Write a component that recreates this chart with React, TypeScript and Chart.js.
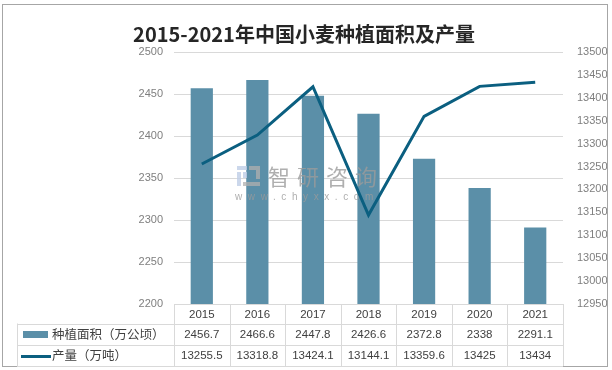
import React, { useEffect, useRef } from 'react';
import { Chart, registerables } from 'chart.js';

Chart.register(...registerables);

const titleText = '2015-2021年中国小麦种植面积及产量';
const years = ['2015', '2016', '2017', '2018', '2019', '2020', '2021'];
const areaLabel = '种植面积（万公顷）';
const outputLabel = '产量（万吨）';
const areaValues = [2456.7, 2466.6, 2447.8, 2426.6, 2372.8, 2338, 2291.1];
const outputValues = [13255.5, 13318.8, 13424.1, 13144.1, 13359.6, 13425, 13434];
const leftAxis = { min: 2200, max: 2500, step: 50 };
const rightAxis = { min: 12950, max: 13500, step: 50 };
const watermarkText = '智研咨询';
const watermarkUrl = 'www.chyxx.com';

const BAR_COLOR = '#5b8fa8';
const LINE_COLOR = '#0b5f80';
const GRID_COLOR = '#d9d9d9';
const TEXT_COLOR = '#404040';
const TICK_COLOR = '#7f7f7f';
const CJK = '"Noto Sans CJK SC", "Noto Sans", sans-serif';
const NUM = '"Liberation Sans", Arial, sans-serif';

function drawWatermark(ctx: CanvasRenderingContext2D) {
  ctx.save();
  // logo
  ctx.fillStyle = 'rgba(190,205,230,0.8)';
  ctx.fillRect(237, 166, 10, 4);
  ctx.fillRect(237, 172, 4, 14);
  ctx.fillRect(243, 172, 4, 6);
  ctx.fillStyle = 'rgba(175,175,175,0.75)';
  ctx.fillRect(249, 166, 11, 4);
  ctx.fillRect(256, 170, 4, 9);
  ctx.fillRect(243, 182, 17, 4);
  // text
  ctx.fillStyle = 'rgba(155,155,155,0.8)';
  ctx.font = `22px ${CJK}`;
  ctx.textBaseline = 'middle';
  ctx.textAlign = 'left';
  (ctx as any).letterSpacing = '7px';
  ctx.fillText(watermarkText, 268, 177);
  ctx.font = `10px ${NUM}`;
  (ctx as any).letterSpacing = '5.6px';
  ctx.fillText(watermarkUrl, 235, 197);
  (ctx as any).letterSpacing = '0px';
  ctx.restore();
}

const decorPlugin = {
  id: 'decor',
  beforeDraw(chart: any) {
    const ctx = chart.ctx;
    ctx.save();
    ctx.fillStyle = '#ffffff';
    ctx.fillRect(0, 0, chart.width, chart.height);
    ctx.restore();
  },
  beforeDatasetDraw(chart: any, args: any) {
    // draw watermark after the bars, beneath the line
    if (args.index === 0) drawWatermark(chart.ctx);
  },
  afterDraw(chart: any) {
    const ctx = chart.ctx;
    const x = chart.scales.x;
    const n = years.length;
    const left = x.left;
    const right = x.right;
    const colW = (right - left) / n;
    const rowTops = [304, 323.5, 344.5, 366];
    const labelLeft = 17;
    ctx.save();

    // outer border
    ctx.strokeStyle = '#a6a6a6';
    ctx.lineWidth = 1;
    ctx.strokeRect(2.5, 4.5, 605, 362);

    // title
    ctx.fillStyle = '#262626';
    ctx.font = `bold 20px ${CJK}`;
    ctx.textAlign = 'center';
    ctx.textBaseline = 'middle';
    ctx.fillText(titleText, 304, 34);

    // table lines
    ctx.strokeStyle = GRID_COLOR;
    ctx.lineWidth = 1;
    ctx.beginPath();
    ctx.moveTo(left, rowTops[0] + 0.5);
    ctx.lineTo(right, rowTops[0] + 0.5);
    for (let r = 1; r < rowTops.length; r++) {
      const y = Math.round(rowTops[r]) + 0.5;
      ctx.moveTo(labelLeft, y);
      ctx.lineTo(right, y);
    }
    for (let i = 0; i <= n; i++) {
      const vx = Math.round(left + i * colW) + 0.5;
      ctx.moveTo(vx, rowTops[0]);
      ctx.lineTo(vx, rowTops[3]);
    }
    ctx.moveTo(labelLeft + 0.5, rowTops[1]);
    ctx.lineTo(labelLeft + 0.5, rowTops[3]);
    ctx.stroke();

    // table text
    ctx.fillStyle = TEXT_COLOR;
    ctx.textAlign = 'center';
    ctx.textBaseline = 'middle';
    ctx.font = `11.5px ${NUM}`;
    for (let i = 0; i < n; i++) {
      const cx = x.getPixelForValue(i);
      ctx.fillText(years[i], cx, (rowTops[0] + rowTops[1]) / 2 + 1);
      ctx.fillText(String(areaValues[i]), cx, (rowTops[1] + rowTops[2]) / 2 + 1);
      ctx.fillText(String(outputValues[i]), cx, (rowTops[2] + rowTops[3]) / 2 + 1);
    }

    // legend keys
    ctx.fillStyle = BAR_COLOR;
    ctx.fillRect(23, 331, 25, 7);
    ctx.strokeStyle = LINE_COLOR;
    ctx.lineWidth = 3;
    ctx.beginPath();
    ctx.moveTo(21, 356.5);
    ctx.lineTo(51, 356.5);
    ctx.stroke();

    ctx.fillStyle = TEXT_COLOR;
    ctx.textAlign = 'left';
    ctx.font = `12.5px ${CJK}`;
    ctx.fillText(areaLabel, 52, (rowTops[1] + rowTops[2]) / 2);
    ctx.fillText(outputLabel, 52, (rowTops[2] + rowTops[3]) / 2);

    ctx.restore();
  },
};

export default function App() {
  const canvasRef = useRef<HTMLCanvasElement | null>(null);

  useEffect(() => {
    if (!canvasRef.current) return;
    const chart = new Chart(canvasRef.current, {
      type: 'bar',
      data: {
        labels: years,
        datasets: [
          {
            type: 'line',
            label: outputLabel,
            data: outputValues,
            yAxisID: 'y1',
            borderColor: LINE_COLOR,
            backgroundColor: LINE_COLOR,
            borderWidth: 3,
            pointRadius: 0,
            tension: 0,
            order: 0,
          } as any,
          {
            type: 'bar',
            label: areaLabel,
            data: areaValues,
            yAxisID: 'y',
            backgroundColor: BAR_COLOR,
            barPercentage: 0.4,
            categoryPercentage: 1,
            order: 1,
          },
        ],
      },
      options: {
        responsive: false,
        animation: false,
        layout: { padding: { top: 52, bottom: 66, left: 0, right: 0 } },
        plugins: {
          legend: { display: false },
          tooltip: { enabled: false },
          title: { display: false },
        },
        scales: {
          x: {
            display: false,
            offset: true,
          },
          y: {
            position: 'left',
            min: leftAxis.min,
            max: leftAxis.max,
            afterFit: (s: any) => {
              s.width = 174;
            },
            border: { display: false },
            grid: { color: GRID_COLOR, drawTicks: false, lineWidth: 1 },
            ticks: {
              stepSize: leftAxis.step,
              padding: 11,
              color: TICK_COLOR,
              font: { family: NUM, size: 11 },
              callback: (v: any) => String(v),
            },
          },
          y1: {
            position: 'right',
            min: rightAxis.min,
            max: rightAxis.max,
            afterFit: (s: any) => {
              s.width = 49;
            },
            border: { display: false },
            grid: { drawOnChartArea: false, drawTicks: false },
            ticks: {
              stepSize: rightAxis.step,
              padding: 14,
              color: TICK_COLOR,
              font: { family: NUM, size: 11 },
              callback: (v: any) => String(v),
            },
          },
        },
      } as any,
      plugins: [decorPlugin],
    });
    return () => chart.destroy();
  }, []);

  return (
    <div style={{ position: 'absolute', left: 0, top: 0, width: 612, height: 370 }}>
      <canvas ref={canvasRef} width={612} height={370} />
    </div>
  );
}
